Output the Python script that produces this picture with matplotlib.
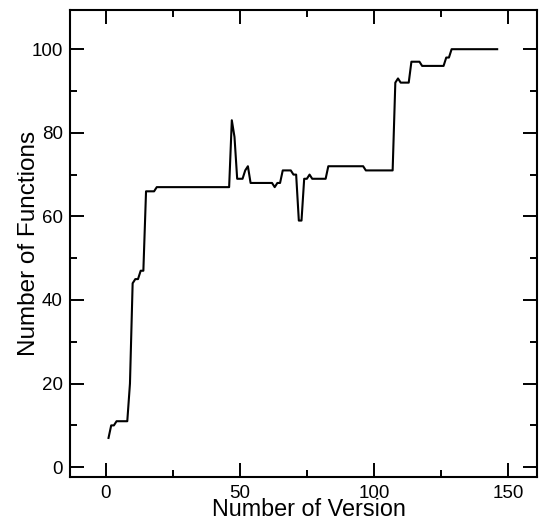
import matplotlib
matplotlib.use("Agg")
import matplotlib.pyplot as plt
from matplotlib.ticker import MultipleLocator

# values (version number -> number of functions)
versions = [1, 2, 3, 4, 8, 9, 10, 11, 12, 13, 14, 15, 18, 19, 46, 47, 48, 49,
            51, 52, 53, 54, 62, 63, 64, 65, 66, 69, 70, 71, 72, 73, 74, 75,
            76, 77, 82, 83, 96, 97, 107, 108, 109, 110, 113, 114, 117, 118,
            126, 127, 128, 129, 146]
functions = [7, 10, 10, 11, 11, 20, 44, 45, 45, 47, 47, 66, 66, 67, 67, 83, 79,
             69, 69, 71, 72, 68, 68, 67, 68, 68, 71, 71, 70, 70, 59, 59, 69,
             69, 70, 69, 69, 72, 72, 71, 71, 92, 93, 92, 92, 97, 97, 96, 96,
             98, 98, 100, 100]

plt.rcParams['font.family'] = ['Liberation Sans', 'DejaVu Sans']

fig = plt.figure(figsize=(5.42, 5.21), dpi=100)
ax = fig.add_axes([0.129, 0.084, 0.861, 0.897])

ax.plot(versions, functions, color='black', linewidth=1.5)

ax.set_xlim(-13.4, 160.7)
ax.set_ylim(-2.4, 109.4)
ax.xaxis.set_major_locator(MultipleLocator(50))
ax.xaxis.set_minor_locator(MultipleLocator(25))
ax.yaxis.set_major_locator(MultipleLocator(20))
ax.yaxis.set_minor_locator(MultipleLocator(10))

ax.tick_params(which='both', direction='in', top=True, right=True,
               width=1.4, labelsize=13.5)
ax.tick_params(axis='x', pad=5.5)
ax.tick_params(axis='y', pad=5)
ax.tick_params(which='major', length=10)
ax.tick_params(which='minor', length=5.3)
for sp in ax.spines.values():
    sp.set_linewidth(1.5)

ax.set_xlabel("Number of Version", fontsize=16.8, labelpad=-3)
ax.xaxis.label.set_x(0.513)
ax.set_ylabel("Number of Functions", fontsize=17.5, labelpad=-6)

fig.savefig("out.png", dpi=100)
